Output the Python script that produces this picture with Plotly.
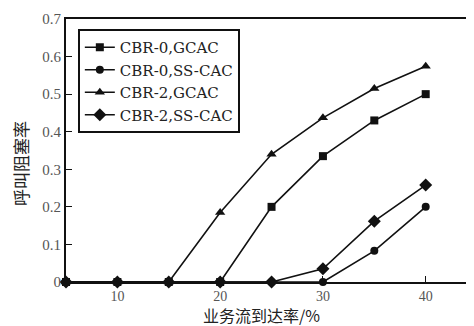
import plotly.graph_objects as go

x_rate = [5, 10, 15, 20, 25, 30, 35, 40]
cbr0_gcac = [0, 0, 0, 0, 0.20, 0.335, 0.43, 0.50]
cbr0_sscac = [0, 0, 0, 0, 0, 0, 0.083, 0.20]
cbr2_gcac = [0, 0, 0, 0.185, 0.34, 0.437, 0.515, 0.574]
cbr2_sscac = [0, 0, 0, 0, 0, 0.035, 0.162, 0.258]

series = [
    ("CBR-0,GCAC", cbr0_gcac, "square", 8),
    ("CBR-0,SS-CAC", cbr0_sscac, "circle", 8),
    ("CBR-2,GCAC", cbr2_gcac, "triangle-up", 9),
    ("CBR-2,SS-CAC", cbr2_sscac, "diamond", 10),
]

fig = go.Figure()
for name, ys, sym, sz in series:
    fig.add_trace(go.Scatter(
        x=x_rate, y=ys, name=name, mode="lines+markers",
        line=dict(color="#111", width=1.6),
        marker=dict(symbol=sym, size=sz, color="#111"),
        cliponaxis=False,
    ))

tickfont = dict(family="Liberation Serif", size=15, color="#555")
xtickfont = dict(family="Liberation Serif", size=14, color="#555")
cjk = dict(family="Noto Sans CJK SC", size=17, color="#222")
cjk_x = dict(family="Noto Sans CJK SC", size=16, color="#222")
fig.update_layout(
    width=466, height=318,
    margin=dict(l=58, r=0, t=11, b=44, autoexpand=False),
    paper_bgcolor="white", plot_bgcolor="white",
    showlegend=True,
    legend=dict(
        x=0.029, y=0.962, xanchor="left", yanchor="top",
        bordercolor="#111", borderwidth=2, bgcolor="white",
        font=dict(family="DejaVu Serif", size=15, color="#222"),
        tracegroupgap=0, itemwidth=30,
    ),
    xaxis=dict(
        range=[5, 44.7], tickvals=[10, 20, 30, 40],
        showline=True, linecolor="#111", linewidth=2, mirror=True,
        ticks="inside", ticklen=6, tickcolor="#111", automargin=False,
        showgrid=False, zeroline=False, tickfont=xtickfont,
    ),
    yaxis=dict(
        range=[0, 0.7], tickvals=[0, 0.1, 0.2, 0.3, 0.4, 0.5, 0.6, 0.7],
        ticktext=["0", "0.1", "0.2", "0.3", "0.4", "0.5", "0.6", "0.7"],
        showline=True, linecolor="#111", linewidth=2, mirror=False,
        ticks="inside", ticklen=6, tickcolor="#111", automargin=False,
        showgrid=False, zeroline=False, tickfont=tickfont,
    ),
    annotations=[
        dict(text="业务流到达率/%", xref="paper", yref="paper", x=0.478, y=-0.127,
             xanchor="center", yanchor="middle", showarrow=False, font=cjk_x),
        dict(text="呼叫阻塞率", xref="paper", yref="paper", x=-0.112, y=0.45,
             xanchor="center", yanchor="middle", showarrow=False, textangle=-90, font=cjk),
    ],
)
fig.write_html("out.html")
